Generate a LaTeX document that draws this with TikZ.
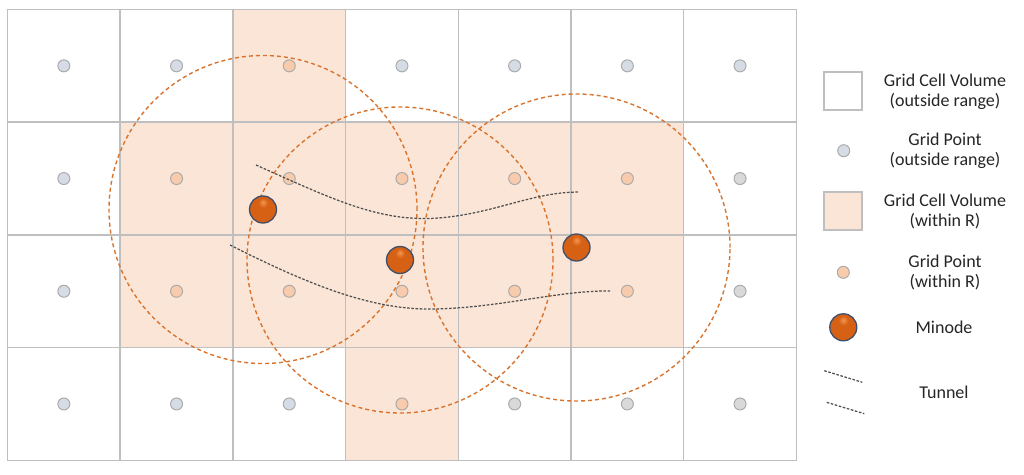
\documentclass[tikz,border=0pt]{standalone}
\usepackage{fontspec}
\setmainfont{Carlito}
\definecolor{cellin}{HTML}{FBE5D6}
\definecolor{gridline}{HTML}{BFBFBF}
\definecolor{ptgrey}{HTML}{D6DCE5}
\definecolor{ptgreyb}{HTML}{D9D9D9}
\definecolor{ptorange}{HTML}{F8CBAD}
\definecolor{ptstroke}{HTML}{ABABAB}
\definecolor{rangecol}{HTML}{D9742F}
\definecolor{tunnelcol}{HTML}{505050}
\definecolor{ballout}{HTML}{3F4F6A}
\definecolor{ballcol}{RGB}{214,96,20}
\definecolor{ballhi}{RGB}{245,150,80}
\definecolor{balldark}{RGB}{140,55,10}
\pgfdeclareradialshading{minodeball}{\pgfpoint{0bp}{14bp}}{%
  color(0bp)=(ballhi); color(9bp)=(ballcol); color(36bp)=(ballcol);
  color(46bp)=(balldark); color(50bp)=(balldark); color(70bp)=(balldark)}
\begin{document}
\begin{tikzpicture}[x=1pt,y=-1pt,
  cellline/.style={draw=gridline, line width=1.5pt},
  ptbase/.style={circle, draw=ptstroke, minimum size=12pt, inner sep=0pt, line width=1pt},
  ptout/.style={ptbase, fill=ptgrey},
  ptoutb/.style={ptbase, fill=ptgreyb},
  ptin/.style={ptbase, fill=ptorange},
  minode/.style={circle, minimum size=27pt, inner sep=0pt, draw=ballout, line width=1.3pt, shading=minodeball},
  rangecircle/.style={draw=rangecol, dash pattern=on 4pt off 3pt, line width=1.4pt},
  tunnelline/.style={draw=tunnelcol, dash pattern=on 2.6pt off 1.6pt, line width=1.25pt},
  legbox/.style={rectangle, draw=gridline, line width=1.3pt, minimum size=38pt, inner sep=0pt},
  legtext/.style={align=center, font=\fontsize{18}{20.5}\selectfont, text=black!85, inner sep=0pt}
]
\useasboundingbox (0,0) rectangle (1024,474);
\fill[white] (0,0) rectangle (1024,474);

% shaded cells
\foreach \i/\j in {2/0,1/1,2/1,3/1,4/1,5/1,1/2,2/2,3/2,4/2,5/2,3/3}{
  \fill[cellin] ({7.5+112.7*\i},{9.5+112.7*\j}) rectangle ++(112.7,112.7);
}
% grid lines
\foreach \i in {0,...,6}{
  \foreach \j in {0,...,3}{
    \draw[cellline] ({7.5+112.7*\i},{9.5+112.7*\j}) rectangle ++(112.7,112.7);
  }
}
% grid points
\foreach \i in {0,...,6}{
  \foreach \j in {0,...,3}{
    \pgfmathtruncatemacro\inside{((\j==1 || \j==2) && (\i>=1 && \i<=5)) || (\i==2 && \j==0) || (\i==3 && \j==3)}
    \pgfmathtruncatemacro\plain{(\i==6 && \j>=1) || (\j==3 && \i>=4)}
    \ifnum\inside=1
      \node[ptin] (p-\i-\j) at ({63.85+112.7*\i},{65.85+112.7*\j}) {};
    \else
      \ifnum\plain=1
        \node[ptoutb] (p-\i-\j) at ({63.85+112.7*\i},{65.85+112.7*\j}) {};
      \else
        \node[ptout] (p-\i-\j) at ({63.85+112.7*\i},{65.85+112.7*\j}) {};
      \fi
    \fi
  }
}

% minode centres
\coordinate (c1) at (263,209.5);
\coordinate (c2) at (400,260);
\coordinate (c3) at (576.5,247.5);

% range circles
\draw[rangecircle] (c1) circle[radius=154pt];
\draw[rangecircle] (c2) circle[radius=153pt];
\draw[rangecircle] (c3) circle[radius=153.5pt];

% tunnels
\coordinate (t1a) at (256,165);
\coordinate (t1m) at (430,218.5);
\coordinate (t1b) at (579,192);
\coordinate (t2a) at (230,245);
\coordinate (t2m) at (433,309);
\coordinate (t2b) at (611,291);
\draw[tunnelline] (t1a) .. controls (330,198) and (375,220) .. (t1m) .. controls (490,216) and (530,192) .. (t1b);
\draw[tunnelline] (t2a) .. controls (315,288) and (375,310) .. (t2m) .. controls (500,308) and (560,290) .. (t2b);

% minodes
\node[minode] (m1) at (c1) {};
\node[minode] (m2) at (c2) {};
\node[minode] (m3) at (c3) {};

% legend
\node[legbox, fill=white] (lb1) at (843,91) {};
\node[ptout] (lp1) at (843.7,150.7) {};
\node[legbox, fill=cellin] (lb2) at (843,211) {};
\node[ptin] (lp2) at (843.3,272.3) {};
\node[minode] (lm) at (843.3,327.3) {};
\coordinate (lt1a) at (824.3,370.7);
\coordinate (lt1b) at (862.3,382.3);
\coordinate (lt2a) at (826.7,402.3);
\coordinate (lt2b) at (864.3,413.7);
\draw[tunnelline] (lt1a) -- (lt1b);
\draw[tunnelline] (lt2a) -- (lt2b);

\node[legtext] (tx1) at (945,91.7) {Grid Cell Volume\\(outside range)};
\node[legtext] (tx2) at (945,151) {Grid Point\\(outside range)};
\node[legtext] (tx3) at (945,211.5) {Grid Cell Volume\\(within R)};
\node[legtext] (tx4) at (945,272.5) {Grid Point\\(within R)};
\node[legtext] (tx5) at (944,327.7) {Minode};
\node[legtext] (tx6) at (944,392.7) {Tunnel};
\end{tikzpicture}
\end{document}
